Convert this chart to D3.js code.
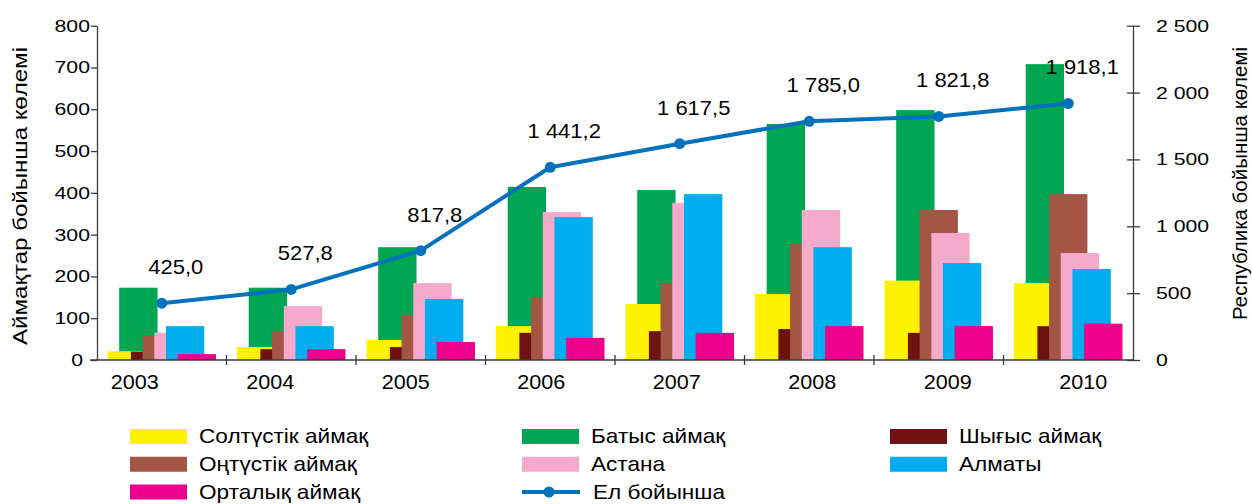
<!DOCTYPE html>
<html>
<head>
<meta charset="utf-8">
<script src="https://cdn.jsdelivr.net/npm/d3@7/dist/d3.min.js"></script>
<style>
  body { margin: 0; background: #fff; }
  svg text { font-family: "Liberation Sans", Arial, sans-serif; fill: #000; }
</style>
</head>
<body>
<svg id="chart" width="1252" height="504"></svg>
<script>
// values
const years = ["2003", "2004", "2005", "2006", "2007", "2008", "2009", "2010"]
const north   = [21, 31, 48, 81, 134, 158, 190, 184]       // Солтүстік
const west    = [173, 173, 270, 414, 407, 565, 598, 708]   // Батыс
const east    = [20, 26, 31, 65, 69, 74, 65, 81]           // Шығыс
const south   = [60, 69, 108, 151, 184, 278, 359, 397]     // Оңтүстік
const astana  = [65, 129, 184, 354, 376, 359, 304, 256]
const almaty  = [81, 81, 146, 342, 397, 270, 232, 218]
const central = [14, 26, 43, 53, 65, 81, 81, 87]           // Орталық
const total   = [425.0, 527.8, 817.8, 1441.2, 1617.5, 1785.0, 1821.8, 1918.1]

const leftTitle = "Аймақтар бойынша көлемі"
const rightTitle = "Республика бойынша көлемі"
const lineName = "Ел бойынша"

// x order inside a group
const series = [
  { name: "Солтүстік аймақ", values: north,   color: "#FFF200" },
  { name: "Батыс аймақ",     values: west,    color: "#00A651" },
  { name: "Шығыс аймақ",     values: east,    color: "#6D1111" },
  { name: "Оңтүстік аймақ",  values: south,   color: "#A25643" },
  { name: "Астана",          values: astana,  color: "#F5A9CB" },
  { name: "Алматы",          values: almaty,  color: "#00AEEF" },
  { name: "Орталық аймақ",   values: central, color: "#EC008C" }
]
// green sits behind the rest
const drawOrder = [1, 0, 2, 3, 4, 5, 6]
const lineColor = "#0072BC"
const axisColor = "#3a3a3a"

const kz = d3.formatLocale({ decimal: ",", thousands: "\u00a0", grouping: [3], currency: ["", ""] })
const fmt1 = kz.format(",.1f"), fmt0 = kz.format(",d")

const svg = d3.select("#chart")

const x = d3.scaleBand().domain(years).range([97, 1133])
const xLab = d3.scaleBand().domain(years).range([67, 1151])   // year labels sit on their own spacing
const y = d3.scaleLinear().domain([0, 800]).range([360, 25.7])
const y2 = d3.scaleLinear().domain([0, 2500]).range([360, 25.7])

const bw = x.bandwidth() * 0.296
const step = bw * 0.305
const off = (x.bandwidth() - 6 * step - bw) / 2

// stretch text sideways around its anchor
function stretch(sel, sx) {
  sel.attr("transform", function () {
    const ax = +this.getAttribute("x") || 0
    return `translate(${ax * (1 - sx)},0) scale(${sx},1)`
  })
}

// bars
const bars = svg.append("g")
drawOrder.forEach(si => {
  const s = series[si]
  bars.selectAll(null)
    .data(s.values.map((v, i) => ({ year: years[i], v })))
    .join("rect")
    .attr("x", d => x(d.year) + off + si * step)
    .attr("width", bw)
    .attr("y", d => y(d.v))
    .attr("height", d => y(0) - y(d.v))
    .attr("fill", s.color)
})

// left axis
const gl = svg.append("g").attr("transform", "translate(97,0)")
  .call(d3.axisLeft(y).ticks(8).tickSize(6).tickSizeOuter(0).tickPadding(1))
gl.select(".domain").attr("stroke", axisColor).attr("stroke-width", 1.3)
gl.selectAll(".tick line").attr("stroke", axisColor).attr("stroke-width", 1.3)
gl.selectAll(".tick text").attr("font-size", 17)
  .attr("x", d => d === 0 ? -14 : -7)   // the zero label sits left of the crossing
  .call(stretch, 1.25)

// right axis
const gr = svg.append("g").attr("transform", "translate(1133,0)")
  .call(d3.axisRight(y2).ticks(5).tickFormat(fmt0).tickSize(7).tickSizeOuter(0).tickPadding(16))
gr.select(".domain").attr("stroke", axisColor).attr("stroke-width", 1.3)
gr.selectAll(".tick line").attr("x1", -6).attr("stroke", axisColor).attr("stroke-width", 1.3)
gr.selectAll(".tick text").attr("font-size", 17).call(stretch, 1.25)

// x axis
const gx = svg.append("g")
gx.append("line").attr("x1", 90).attr("x2", 1133).attr("y1", y(0)).attr("y2", y(0))
  .attr("stroke", axisColor).attr("stroke-width", 1.3)
gx.selectAll(".xt").data(years.slice(1)).join("line")
  .attr("x1", d => x(d)).attr("x2", d => x(d))
  .attr("y1", y(0) - 5).attr("y2", y(0) + 5)
  .attr("stroke", axisColor).attr("stroke-width", 1.3)
gx.selectAll("text").data(years).join("text")
  .attr("x", d => xLab(d) + xLab.bandwidth() / 2)
  .attr("y", 389)
  .attr("text-anchor", "middle")
  .attr("font-size", 20)
  .text(d => d)
  .call(stretch, 1.08)

// total line
const pts = total.map((v, i) => ({ year: years[i], v }))
const cx = d => x(d.year) + x.bandwidth() / 2
svg.append("path")
  .datum(pts)
  .attr("fill", "none")
  .attr("stroke", lineColor)
  .attr("stroke-width", 4)
  .attr("stroke-linejoin", "round")
  .attr("d", d3.line().x(cx).y(d => y2(d.v)))
svg.append("g").selectAll("circle").data(pts).join("circle")
  .attr("cx", cx).attr("cy", d => y2(d.v)).attr("r", 5.5)
  .attr("fill", lineColor)

svg.append("g").selectAll("text").data(pts).join("text")
  .attr("x", d => cx(d) + 14)
  .attr("y", d => y2(d.v) - 29)
  .attr("text-anchor", "middle")
  .attr("font-size", 20)
  .text(d => fmt1(d.v))
  .call(stretch, 1.1)

// axis titles
svg.append("text")
  .attr("transform", "rotate(-90)")
  .attr("x", -196).attr("y", 26.7)
  .attr("text-anchor", "middle")
  .attr("font-size", 21)
  .attr("textLength", 298).attr("lengthAdjust", "spacingAndGlyphs")
  .text(leftTitle)
svg.append("text")
  .attr("transform", "rotate(-90)")
  .attr("x", -183.5).attr("y", 1246.7)
  .attr("text-anchor", "middle")
  .attr("font-size", 21)
  .attr("textLength", 273).attr("lengthAdjust", "spacingAndGlyphs")
  .text(rightTitle)

// legend, three columns filled row by row
const legendItems = series.map(s => ({ name: s.name, color: s.color, type: "bar" }))
legendItems.splice(6, 0, { name: lineName, color: lineColor, type: "line" })
const legendOrder = [0, 1, 2, 3, 4, 5, 7, 6] // Орталық then Ел бойынша on the last row
const colX = [130, 522, 890]
const lg = svg.append("g")
legendOrder.map(i => legendItems[i]).forEach((d, k) => {
  const col = k % 3, row = Math.floor(k / 3)
  const lx = colX[col], cy = 436.5 + row * 27.75
  if (d.type === "bar") {
    lg.append("rect").attr("x", lx).attr("y", cy - 7.5).attr("width", 57).attr("height", 15).attr("fill", d.color)
  } else {
    lg.append("line").attr("x1", lx).attr("x2", lx + 58).attr("y1", cy).attr("y2", cy)
      .attr("stroke", d.color).attr("stroke-width", 4)
    lg.append("circle").attr("cx", lx + 27).attr("cy", cy).attr("r", 5.5).attr("fill", d.color)
  }
  lg.append("text")
    .attr("x", lx + 69 + (d.type === "line" ? 2 : 0))
    .attr("y", cy + 7)
    .attr("font-size", 20)
    .text(d.name)
    .call(stretch, 1.13)
})
</script>
</body>
</html>
